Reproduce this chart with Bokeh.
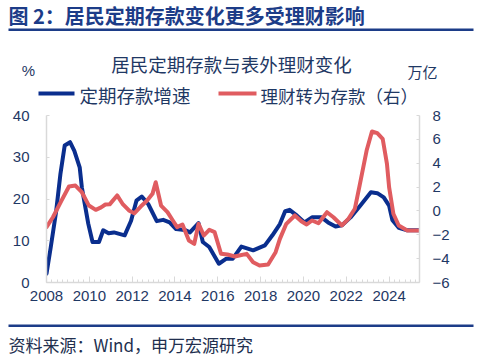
from bokeh.plotting import figure
from bokeh.layouts import column
from bokeh.models import (Range1d, LinearAxis, Label, BoxAnnotation, FixedTicker,
                          SingleIntervalTicker)
from bokeh.embed import file_html
from bokeh.resources import INLINE

# ---------------- data ----------------
dep_year = [2008.0, 2008.2, 2008.45, 2008.65, 2008.85, 2009.1, 2009.3, 2009.55, 2009.65,
            2009.95, 2010.15, 2010.45, 2010.65, 2010.9, 2011.15, 2011.65, 2011.95, 2012.2,
            2012.45, 2012.75, 2013.15, 2013.45, 2013.75, 2014.05, 2014.45, 2014.7, 2015.1,
            2015.3, 2015.6, 2016.05, 2016.4, 2016.7, 2017.1, 2017.4, 2017.65, 2018.2,
            2018.55, 2018.9, 2019.15, 2019.35, 2019.7, 2020.05, 2020.4, 2020.85, 2021.15,
            2021.5, 2021.8, 2022.2, 2022.65, 2023.15, 2023.45, 2023.75, 2024.0, 2024.15,
            2024.45, 2024.85, 2025.4]
dep_growth = [2.1, 8.5, 17.0, 26.0, 32.8, 33.6, 31.5, 27.6, 22.8,
              14.1, 9.7, 9.7, 12.5, 11.8, 12.0, 11.3, 14.8, 19.6,
              20.6, 18.8, 14.7, 15.0, 14.4, 12.8, 12.6, 12.0, 14.2,
              9.7, 8.5, 4.5, 5.7, 5.7, 8.6, 8.1, 7.7, 8.9,
              11.3, 14.0, 17.1, 17.4, 16.0, 14.4, 15.6, 15.6, 14.4,
              13.4, 13.7, 15.6, 18.4, 21.6, 21.4, 20.4, 18.4, 15.0,
              13.1, 12.5, 12.5]

wm_year = [2008.0, 2008.3, 2008.7, 2009.05, 2009.35, 2009.65, 2009.98, 2010.3, 2010.55,
           2010.75, 2010.95, 2011.3, 2011.55, 2011.85, 2012.1, 2012.4, 2012.7, 2012.95,
           2013.1, 2013.35, 2013.65, 2013.9, 2014.1, 2014.35, 2014.65, 2014.9, 2015.1,
           2015.35, 2015.6, 2015.85, 2016.15, 2016.45, 2016.8, 2017.0, 2017.35, 2017.65,
           2017.95, 2018.35, 2018.7, 2018.9, 2019.2, 2019.6, 2019.9, 2020.15, 2020.4,
           2020.7, 2021.1, 2021.4, 2021.8, 2022.1, 2022.4, 2022.62, 2022.95, 2023.2,
           2023.45, 2023.7, 2023.9, 2024.0, 2024.2, 2024.45, 2024.85, 2025.4]
wm_to_dep = [-1.36, -0.53, 0.87, 2.05, 2.13, 1.57, 0.45, 0.09, 0.3,
             0.54, 0.55, 1.3, 0.6, 0.04, -0.2, 0.37, 0.87, 1.43,
             2.4, 0.45, -0.1, -0.8, -1.36, -1.14, -2.48, -2.76, -1.08,
             -2.06, -1.58, -1.78, -3.59, -3.65, -3.82, -3.74, -3.6, -4.3,
             -4.57, -4.49, -3.46, -2.34, -1.08, -0.38, -0.86, -1.14, -0.8,
             -1.03, -0.11, -0.53, -1.22, -0.66, 0.18, 2.1, 5.06, 6.66,
             6.52, 6.05, 3.95, 1.99, -0.24, -1.22, -1.64, -1.64]

left_ticks = [0, 10, 20, 30, 40]
right_ticks = [-6, -4, -2, 0, 2, 4, 6, 8]

title_text = "图 2：居民定期存款变化更多受理财影响"
subtitle_text = "居民定期存款与表外理财变化"
legend_labels = ["定期存款增速", "理财转为存款（右）"]
left_unit = "%"
right_unit = "万亿"
source_text = "资料来源：Wind，申万宏源研究"

# ---------------- style ----------------
W = 492
HEAD_H = 107          # header strip (title, rule, subtitle, units, legend)
MAIN_H = 203          # plot strip
FOOT_H = 356 - HEAD_H - MAIN_H
BLUE = "#0a2e8e"
RED = "#e05c60"
NAVY = "#1f3864"
RULE = "#1c3c88"
GRID = "#d9d9d9"
CJK = "Noto Sans CJK SC"
LAT = "Liberation Sans"


def strip(h):
    f = figure(width=W, height=h, output_backend="svg", toolbar_location=None,
               x_range=Range1d(0, W), y_range=Range1d(h, 0),
               x_axis_type=None, y_axis_type=None, frame_align=False,
               min_border=0, min_border_left=0, min_border_right=0,
               min_border_top=0, min_border_bottom=0)
    f.title.visible = False
    f.outline_line_color = None
    f.xgrid.visible = False
    f.ygrid.visible = False
    return f


# ---------------- header ----------------
head = strip(HEAD_H)
head.add_layout(Label(x=8, y=15, text=title_text, text_font=CJK, text_font_size="20px",
                      text_font_style="bold", text_color=RULE,
                      text_baseline="middle", text_align="left"))
head.add_layout(BoxAnnotation(left=8, right=473, top=28, bottom=30.5,
                              fill_color=RULE, fill_alpha=1, line_color=None))
head.add_layout(Label(x=231, y=63, text=subtitle_text, text_font=CJK,
                      text_font_size="18.5px", text_color=NAVY,
                      text_baseline="middle", text_align="center"))
head.add_layout(Label(x=28, y=70, text=left_unit, text_font=LAT, text_font_size="15px",
                      text_color=NAVY, text_baseline="middle", text_align="center"))
head.add_layout(Label(x=422, y=71, text=right_unit, text_font=CJK, text_font_size="15px",
                      text_color=NAVY, text_baseline="middle", text_align="center"))
# legend: key swatches + labels
head.add_layout(BoxAnnotation(left=38, right=74, top=91, bottom=95,
                              fill_color=BLUE, fill_alpha=1, line_color=None))
head.add_layout(Label(x=79, y=94.5, text=legend_labels[0], text_font=CJK,
                      text_font_size="18.5px", text_color=NAVY,
                      text_baseline="middle", text_align="left"))
head.add_layout(BoxAnnotation(left=218, right=256, top=91, bottom=95,
                              fill_color=RED, fill_alpha=1, line_color=None))
head.add_layout(Label(x=260, y=94.5, text=legend_labels[1], text_font=CJK,
                      text_font_size="17.5px", text_color=NAVY,
                      text_baseline="middle", text_align="left"))

# ---------------- main plot ----------------
p = figure(width=W, height=MAIN_H, output_backend="svg", toolbar_location=None,
           x_range=Range1d(2008, 2025.42), y_range=Range1d(0, 40), frame_align=False,
           min_border_left=46, min_border_right=73,
           min_border_top=8, min_border_bottom=28)
p.title.visible = False
p.outline_line_color = None
p.xgrid.visible = False
p.ygrid.visible = False
p.extra_y_ranges = {"r": Range1d(-6, 8)}

xa = p.xaxis[0]
xa.ticker = SingleIntervalTicker(interval=2, num_minor_ticks=8)
xa.axis_line_color = GRID
xa.axis_line_width = 1.5
xa.major_tick_line_color = GRID
xa.major_tick_in = 6
xa.major_tick_out = 0
xa.minor_tick_line_color = GRID
xa.minor_tick_in = 3
xa.minor_tick_out = 0
xa.major_label_text_font = LAT
xa.major_label_text_font_size = "15px"
xa.major_label_text_color = NAVY
xa.major_label_standoff = 8

ya = p.yaxis[0]
ya.ticker = FixedTicker(ticks=left_ticks)
ya.axis_line_color = GRID
ya.axis_line_width = 1.5
ya.major_tick_line_color = GRID
ya.major_tick_in = 3
ya.major_tick_out = 0
ya.minor_tick_line_color = None
ya.major_label_text_font = LAT
ya.major_label_text_font_size = "15px"
ya.major_label_text_color = NAVY
ya.major_label_standoff = 17

ra = LinearAxis(y_range_name="r", ticker=FixedTicker(ticks=right_ticks))
ra.axis_line_color = GRID
ra.axis_line_width = 1.5
ra.major_tick_line_color = GRID
ra.major_tick_in = 3
ra.major_tick_out = 0
ra.minor_tick_line_color = None
ra.major_label_text_font = LAT
ra.major_label_text_font_size = "15px"
ra.major_label_text_color = NAVY
ra.major_label_standoff = 13
p.add_layout(ra, "right")

p.line(dep_year, dep_growth, line_color=BLUE, line_width=4,
       line_join="round", line_cap="round")
p.line(wm_year, wm_to_dep, line_color=RED, line_width=4,
       line_join="round", line_cap="round", y_range_name="r")

# ---------------- footer ----------------
foot = strip(FOOT_H)
foot.add_layout(BoxAnnotation(left=8, right=473, top=324 - (HEAD_H + MAIN_H),
                              bottom=326.5 - (HEAD_H + MAIN_H),
                              fill_color=RULE, fill_alpha=1, line_color=None))
foot.add_layout(Label(x=8, y=344 - (HEAD_H + MAIN_H), text=source_text, text_font=CJK,
                      text_font_size="17px", text_color="#22304f",
                      text_baseline="middle", text_align="left"))

layout = column(head, p, foot, spacing=0)
open("out.html", "w").write(file_html(layout, INLINE))
